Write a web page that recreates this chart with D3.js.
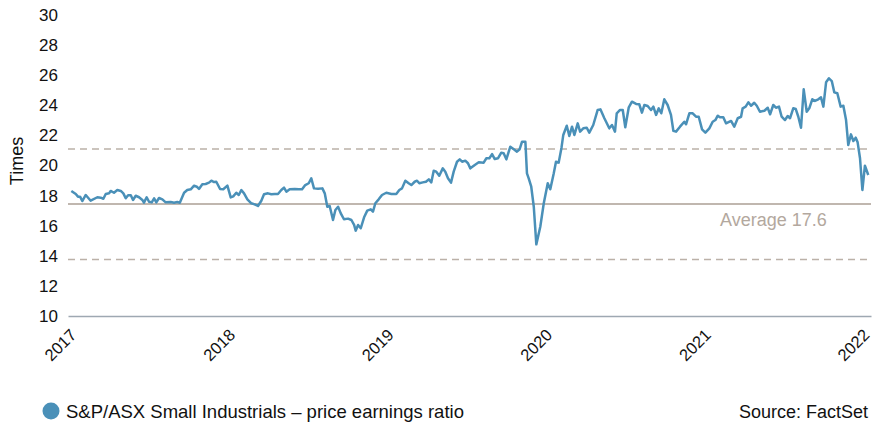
<!DOCTYPE html>
<html><head><meta charset="utf-8">
<script src="https://cdn.jsdelivr.net/npm/d3@7"></script>
<style>
html,body{margin:0;padding:0;background:#fff;}
svg text{font-family:"Liberation Sans",Arial,Helvetica,sans-serif;}
</style></head>
<body><svg id="c" width="880" height="427"></svg>
<script>
const years = [2016.964,2016.992,2017.006,2017.019,2017.033,2017.055,2017.086,2017.128,2017.149,2017.166,2017.181,2017.202,2017.212,2017.233,2017.254,2017.276,2017.292,2017.307,2017.322,2017.339,2017.353,2017.370,2017.391,2017.412,2017.422,2017.439,2017.454,2017.471,2017.486,2017.500,2017.517,2017.538,2017.559,2017.591,2017.612,2017.632,2017.648,2017.675,2017.695,2017.717,2017.738,2017.755,2017.769,2017.790,2017.811,2017.832,2017.847,2017.864,2017.878,2017.902,2017.922,2017.948,2017.969,2017.985,
2018.004,2018.020,2018.036,2018.053,2018.074,2018.099,2018.120,2018.141,2018.162,2018.179,2018.204,2018.225,2018.247,2018.267,2018.288,2018.305,2018.320,2018.341,2018.373,2018.398,2018.419,2018.439,2018.461,2018.477,2018.494,2018.520,2018.547,2018.562,2018.578,2018.593,2018.614,2018.629,2018.646,2018.663,2018.683,2018.709,2018.730,2018.747,2018.757,2018.772,2018.789,2018.810,2018.830,2018.852,2018.866,2018.881,2018.902,2018.923,2018.950,2018.982,
2019.013,2019.032,2019.049,2019.070,2019.091,2019.108,2019.129,2019.144,2019.158,2019.180,2019.200,2019.218,2019.234,2019.249,2019.265,2019.284,2019.306,2019.322,2019.339,2019.358,2019.375,2019.396,2019.413,2019.428,2019.448,2019.465,2019.480,2019.508,2019.533,2019.564,2019.581,2019.600,2019.617,2019.634,2019.654,2019.675,2019.690,2019.707,2019.732,2019.754,2019.774,2019.791,2019.806,2019.827,2019.837,2019.848,2019.864,2019.880,2019.896,2019.921,2019.943,2019.968,2019.984,
2020.006,2020.020,2020.037,2020.055,2020.066,2020.088,2020.104,2020.121,2020.136,2020.157,2020.172,2020.192,2020.214,2020.230,2020.255,2020.283,2020.300,2020.325,2020.356,2020.373,2020.392,2020.403,2020.424,2020.441,2020.457,2020.479,2020.499,2020.525,2020.545,2020.562,2020.577,2020.598,2020.619,2020.634,2020.651,2020.668,2020.684,2020.703,2020.724,2020.745,2020.760,2020.777,2020.802,2020.829,2020.840,2020.861,2020.882,2020.903,2020.920,2020.941,2020.962,2020.987,
2021.008,2021.025,2021.040,2021.054,2021.075,2021.092,2021.124,2021.144,2021.166,2021.187,2021.197,2021.216,2021.233,2021.250,2021.270,2021.286,2021.306,2021.334,2021.355,2021.370,2021.390,2021.407,2021.426,2021.443,2021.464,2021.481,2021.496,2021.516,2021.532,2021.548,2021.565,2021.582,2021.601,2021.617,2021.636,2021.653,2021.674,2021.691,2021.706,2021.723,2021.741,2021.759,2021.775,2021.794,2021.815,2021.832,2021.849,2021.863,2021.880,2021.895,2021.910,2021.922,2021.937,2021.952,2021.968,2021.989];
const pe = [18.31,18.11,17.93,17.93,17.64,18.04,17.66,17.89,17.86,17.79,18.11,18.15,18.31,18.19,18.37,18.31,18.15,17.82,18.02,18.02,17.71,17.99,17.89,17.71,17.53,17.89,17.59,17.55,17.82,17.55,17.84,17.75,17.55,17.57,17.53,17.57,17.53,18.19,18.37,18.42,18.66,18.59,18.44,18.75,18.77,18.86,18.99,18.90,18.92,18.44,18.42,18.66,17.88,17.95,
18.19,18.04,18.37,18.15,17.75,17.49,17.42,17.31,17.66,18.09,18.15,18.09,18.11,18.11,18.37,18.53,18.26,18.42,18.44,18.42,18.42,18.70,18.82,19.15,18.48,18.46,18.48,18.15,17.26,17.31,16.38,17.04,17.26,16.82,16.43,16.47,16.38,16.05,15.67,16.05,15.83,16.56,17.00,17.09,16.93,17.49,17.75,18.04,18.19,18.11,
18.11,18.37,18.48,18.99,18.82,18.70,18.92,18.99,18.82,18.88,18.92,19.08,18.88,19.65,19.59,19.32,19.81,19.59,19.15,18.86,19.59,20.25,20.41,20.25,20.32,20.15,19.81,20.03,20.21,20.19,20.48,20.48,20.76,20.43,20.48,20.85,20.81,20.41,21.25,21.08,20.92,21.08,21.58,21.58,19.48,19.15,18.59,17.26,14.76,15.93,17.49,18.82,18.42,
19.48,20.25,20.19,21.20,22.03,22.64,21.96,22.58,22.03,22.80,22.25,22.47,22.51,22.18,22.69,23.69,23.73,23.14,22.47,22.69,22.25,23.47,23.69,23.69,22.54,23.87,24.24,24.09,24.07,23.51,24.02,23.95,23.69,23.91,23.36,23.80,23.47,24.40,24.02,23.36,22.31,22.25,22.58,22.91,22.74,23.47,23.47,23.24,23.24,22.40,22.18,22.47,
22.91,23.02,23.31,23.20,23.20,22.80,22.96,22.58,23.14,23.24,23.80,23.91,24.20,23.97,24.17,23.97,23.57,23.64,23.84,23.40,24.02,23.84,23.91,23.24,23.02,23.29,23.14,23.80,23.75,23.24,22.51,25.06,23.57,23.80,24.40,24.29,24.40,24.53,23.91,25.53,25.79,25.61,24.86,24.80,23.91,23.97,23.02,21.36,22.07,21.63,21.85,21.54,20.48,18.37,19.99,19.37];
const yTicks = [10,12,14,16,18,20,22,24,26,28,30];
const xTickYears = [2017,2018,2019,2020,2021,2022];
const avgValue = 17.45;
const avgLabel = "Average 17.6";
const bandUpper = 21.1;
const bandLower = 13.75;
const yTitle = "Times";
const legendLabel = "S&P/ASX Small Industrials – price earnings ratio";
const sourceLabel = "Source: FactSet";

const svg = d3.select("#c");
const x = d3.scaleLinear().domain([2016.943, 2022.0063]).range([68, 871]);
const y = d3.scaleLinear().domain([10, 30]).range([316, 15]);
const lineColor = "#4a90b8";

// y tick labels
const ya = svg.append("g").attr("transform","translate(58,0)")
  .call(d3.axisLeft(y).tickValues(yTicks).tickSize(0).tickPadding(0).tickFormat(d3.format("d")));
ya.select(".domain").remove();
ya.selectAll("text").attr("font-size",17).attr("fill","#111").attr("font-family","Liberation Sans, Arial, sans-serif");

svg.append("text").text(yTitle).attr("transform","translate(23,161) rotate(-90)")
  .attr("text-anchor","middle").attr("font-size",18).attr("fill","#111");

// bands
[bandUpper, bandLower].forEach(v => {
  svg.append("line").attr("x1",68).attr("x2",871).attr("y1",y(v)).attr("y2",y(v))
    .attr("stroke","#bbb1a8").attr("stroke-width",1.5).attr("stroke-dasharray","7,5");
});
svg.append("line").attr("x1",68).attr("x2",871).attr("y1",y(avgValue)).attr("y2",y(avgValue))
  .attr("stroke","#ab9f95").attr("stroke-width",1.5);
svg.append("text").text(avgLabel).attr("x",720).attr("y",y(avgValue)+22)
  .attr("font-size",18).attr("fill","#b3a89e");

// x axis
const xa = svg.append("g").attr("transform","translate(0,316)")
  .call(d3.axisBottom(x).tickValues(xTickYears).tickSize(0).tickFormat(d3.format("d")));
xa.select(".domain").attr("stroke","#9ea8b2").attr("stroke-width",1.5);
xa.selectAll("text").attr("font-size",16.5).attr("fill","#111")
  .attr("font-family","Liberation Sans, Arial, sans-serif")
  .attr("text-anchor","end").attr("dy",null).attr("y",20)
  .attr("transform", function(){ return "rotate(-45,0,20)"; });

// line
const data = years.map((t,i)=>({t, v: pe[i]}));
svg.append("path").datum(data)
  .attr("d", d3.line().x(d=>x(d.t)).y(d=>y(d.v)))
  .attr("fill","none").attr("stroke",lineColor).attr("stroke-width",2.5).attr("stroke-linejoin","round");

// legend
svg.append("circle").attr("cx",51).attr("cy",411).attr("r",8.5).attr("fill",lineColor);
svg.append("text").text(legendLabel).attr("x",66).attr("y",417.5).attr("font-size",18.5).attr("fill","#111");
svg.append("text").text(sourceLabel).attr("x",868).attr("y",417.5).attr("text-anchor","end").attr("font-size",18).attr("fill","#111");
</script></body></html>
